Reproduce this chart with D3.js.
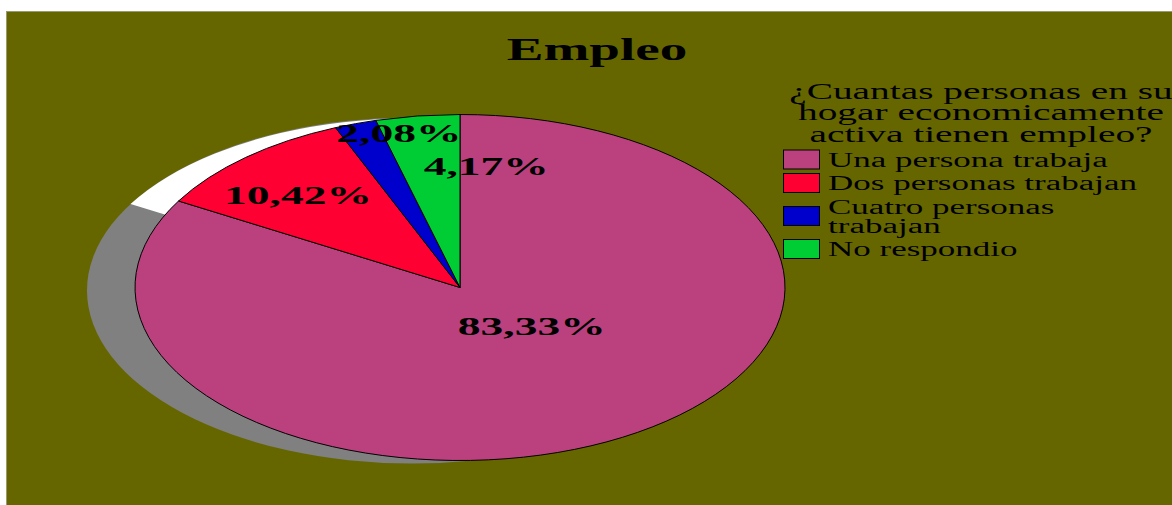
<!DOCTYPE html>
<html>
<head>
<meta charset="utf-8">
<script src="https://cdn.jsdelivr.net/npm/d3@7"></script>
<style>
  body { margin: 0; background: #ffffff; }
  svg { display: block; }
</style>
</head>
<body>
<div id="chart"></div>
<script>
// datos del grafico
const categorias = ['Una persona trabaja', 'Dos personas trabajan', 'Cuatro personas trabajan', 'No respondio'];
const porcentajes = [83.33, 10.42, 2.08, 4.17];
const etiquetas = ['83,33%', '10,42%', '2,08%', '4,17%'];
const colores = ['#BB407E', '#FF0033', '#0000CC', '#00CC33'];
const lineasLeyenda = [['Una persona trabaja'], ['Dos personas trabajan'], ['Cuatro personas', 'trabajan'], ['No respondio']];
const tituloLeyenda = ['¿Cuantas personas en su', 'hogar economicamente', 'activa tienen empleo?'];

const W = 1172, H = 505;
const SX = 1.75; // el grafico original esta estirado horizontalmente
const fuente = '"Liberation Serif", "Times New Roman", serif';

const svg = d3.select('#chart')
  .append('svg')
  .attr('width', W)
  .attr('height', H);

// fondo
svg.append('rect')
  .attr('x', 6.5).attr('y', 11.5)
  .attr('width', W - 6).attr('height', H - 11)
  .attr('fill', '#666600')
  .attr('stroke', '#9a9a70')
  .attr('stroke-width', 1);

// titulo
svg.append('g')
  .attr('transform', `translate(597,60) scale(${SX},1)`)
  .append('text')
  .attr('text-anchor', 'middle')
  .style('font-family', fuente)
  .style('font-weight', 'bold')
  .style('font-size', '31.5px')
  .text('Empleo');

// geometria de la torta (eliptica)
const cx = 460, cy = 287.5, rx = 325, ry = 173;
const sombraDX = -48, sombraDY = 3;

const pie = d3.pie().sort(null).value(d => d);
const arcos = pie(porcentajes);
const arc = d3.arc().innerRadius(0).outerRadius(1);

// sombra
const sombra = svg.append('g')
  .attr('transform', `translate(${cx + sombraDX},${cy + sombraDY}) scale(${rx},${ry})`);
sombra.append('path')
  .attr('d', arc({ startAngle: 0, endAngle: 2 * Math.PI }))
  .attr('fill', '#808080');
sombra.append('path')
  .attr('d', arc({ startAngle: -Math.PI / 3, endAngle: 2 * Math.PI / 3 }))
  .attr('fill', '#ffffff');

// porciones
const torta = svg.append('g')
  .attr('transform', `translate(${cx},${cy}) scale(${rx},${ry})`);
torta.selectAll('path')
  .data(arcos)
  .enter().append('path')
  .attr('d', arc)
  .attr('fill', (d, i) => colores[i])
  .attr('stroke', '#000')
  .attr('stroke-width', 1)
  .attr('vector-effect', 'non-scaling-stroke');

// etiquetas de porcentaje
const arcoEtiqueta = d3.arc().innerRadius(0.7).outerRadius(0.7);
const ajustes = [[-42, -57], [-12, 8], [12, -31], [56, 8]];
svg.selectAll('.etq')
  .data(arcos)
  .enter().append('g')
  .attr('class', 'etq')
  .attr('transform', (d, i) => {
    const c = arcoEtiqueta.centroid(d);
    const x = cx + c[0] * rx + ajustes[i][0];
    const y = cy + c[1] * ry + ajustes[i][1];
    return `translate(${x},${y}) scale(${SX},1)`;
  })
  .append('text')
  .attr('text-anchor', 'middle')
  .style('font-family', fuente)
  .style('font-weight', 'bold')
  .style('font-size', '26px')
  .text((d, i) => etiquetas[i]);

// leyenda
tituloLeyenda.forEach((t, i) => {
  svg.append('g')
    .attr('transform', `translate(981,${99 + i * 21.3}) scale(${SX},1)`)
    .append('text')
    .attr('text-anchor', 'middle')
    .style('font-family', fuente)
    .style('font-size', '22.5px')
    .text(t);
});

const lineH = 19;
let yy = 149.5;
categorias.forEach((c, i) => {
  const lineas = lineasLeyenda[i];
  const centro = yy + lineas.length * lineH / 2 + 0.5;
  svg.append('rect')
    .attr('x', 783.5).attr('y', centro - 9.5)
    .attr('width', 36).attr('height', 19)
    .attr('fill', colores[i])
    .attr('stroke', '#000')
    .attr('stroke-width', 1);
  lineas.forEach((l, j) => {
    svg.append('g')
      .attr('transform', `translate(828,${yy + 17 + j * lineH}) scale(${SX},1)`)
      .append('text')
      .style('font-family', fuente)
      .style('font-size', '20px')
      .text(l);
  });
  yy += lineas.length * lineH + 4.5;
});
</script>
</body>
</html>
